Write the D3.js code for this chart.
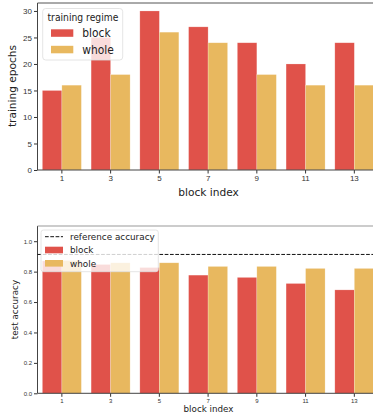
<!DOCTYPE html>
<html><head><meta charset="utf-8">
<script src="https://cdn.jsdelivr.net/npm/d3@7"></script>
<style>body{margin:0;background:#fff}svg{display:block;font-family:"DejaVu Sans",sans-serif}</style>
</head><body><svg id="c" width="373" height="417"></svg>
<script>
const blocks = ["1","3","5","7","9","11","13"];
const epochsBlock = [15,25,30,27,24,20,24];
const epochsWhole = [16,18,26,24,18,16,16];
const accBlock = [0.87,0.847,0.827,0.777,0.762,0.722,0.68];
const accWhole = [0.873,0.858,0.858,0.834,0.834,0.821,0.821];
const refAcc = 0.913;
const epochTicks = [0,5,10,15,20,25,30];
const accTicks = [0,0.2,0.4,0.6,0.8,1.0];
const series = ["block","whole"];
const colors = {block:"#e0524a", whole:"#e8b85f"};

const svg = d3.select("#c");
const X0 = 37.5, X1 = 378.7;
const x = d3.scaleBand().domain(blocks).range([X0,X1]).padding(0);
const bw = x.bandwidth();

function panel(g, yTop, yBot, yMax, blockVals, wholeVals, ticks, fmt, tickFont, spineTopColor){
  const y = d3.scaleLinear().domain([0,yMax]).range([yBot,yTop]);
  const data = [];
  blocks.forEach((b,i)=>{
    data.push({b, s:"block", v:blockVals[i], off:0.1});
    data.push({b, s:"whole", v:wholeVals[i], off:0.5});
  });
  g.selectAll("rect.bar").data(data).join("rect").attr("class","bar")
    .attr("x", d=>x(d.b)+d.off*bw).attr("width", 0.4*bw)
    .attr("y", d=>y(d.v)).attr("height", d=>yBot-y(d.v))
    .attr("fill", d=>colors[d.s]).attr("stroke","rgba(255,255,255,0.35)").attr("stroke-width",0.6);
  const ya = g.append("g").attr("transform",`translate(${X0},0)`)
    .call(d3.axisLeft(y).tickValues(ticks).tickFormat(fmt).tickSize(3.5).tickPadding(2));
  ya.select(".domain").remove();
  ya.selectAll("text").attr("font-size",tickFont).attr("fill","#333");
  ya.selectAll("line").attr("stroke","#333");
  const xa = g.append("g").attr("transform",`translate(0,${yBot})`)
    .call(d3.axisBottom(x).tickSize(3.5).tickPadding(2));
  xa.select(".domain").remove();
  xa.selectAll("text").attr("font-size",tickFont).attr("fill","#333");
  xa.selectAll("line").attr("stroke","#333");
  g.append("line").attr("x1",X0).attr("x2",X0).attr("y1",yTop).attr("y2",yBot).attr("stroke","#444").attr("stroke-width",1);
  g.append("line").attr("x1",X0).attr("x2",X1).attr("y1",yBot).attr("y2",yBot).attr("stroke","#444").attr("stroke-width",1);
  g.append("line").attr("x1",X0).attr("x2",X1).attr("y1",yTop).attr("y2",yTop).attr("stroke",spineTopColor).attr("stroke-width",1);
  return y;
}

// top panel
const gt = svg.append("g");
panel(gt, 3, 170, 31.5, epochsBlock, epochsWhole, epochTicks, d3.format("d"), 8, "#555");
gt.append("text").attr("transform","translate(16,86) rotate(-90)").attr("text-anchor","middle")
  .attr("font-size",10.6).attr("fill","#222").text("training epochs");
gt.append("text").attr("transform","translate(208.5,195.5) scale(0.95,1)").attr("text-anchor","middle")
  .attr("font-size",11.2).attr("fill","#222").text("block index");
const lt = gt.append("g");
lt.append("rect").attr("x",42.7).attr("y",8.5).attr("width",80).attr("height",51.5).attr("rx",3)
  .attr("fill","rgba(255,255,255,0.8)").attr("stroke","#ddd").attr("stroke-width",0.8);
lt.append("text").attr("transform","translate(47.5,21) scale(0.95,1)").attr("font-size",9.7).attr("fill","#222").text("training regime");
series.forEach((s,i)=>{
  lt.append("rect").attr("x",51).attr("y",29.3+i*16.5).attr("width",22.3).attr("height",7.5).attr("fill",colors[s]);
  lt.append("text").attr("transform",`translate(82.3,${37.3+i*16.3}) scale(0.89,1)`).attr("font-size",12).attr("fill","#222").text(s);
});

// bottom panel
const gb = svg.append("g");
const yb = panel(gb, 226, 393.3, 1.1, accBlock, accWhole, accTicks, d3.format(".1f"), 6, "#999");
gb.append("line").attr("x1",X0).attr("x2",X1).attr("y1",yb(refAcc)).attr("y2",yb(refAcc))
  .attr("stroke","#111").attr("stroke-width",1).attr("stroke-dasharray","3.7,1.6");
gb.append("text").attr("transform","translate(18,309.6) rotate(-90)").attr("text-anchor","middle")
  .attr("font-size",8.8).attr("fill","#222").text("test accuracy");
gb.append("text").attr("transform","translate(208.5,412) scale(0.95,1)").attr("text-anchor","middle")
  .attr("font-size",9.2).attr("fill","#222").text("block index");
const lb = gb.append("g");
lb.append("rect").attr("x",41).attr("y",230).attr("width",117.3).attr("height",41.7).attr("rx",2.5)
  .attr("fill","rgba(255,255,255,0.8)").attr("stroke","#ddd").attr("stroke-width",0.8);
lb.append("line").attr("x1",45).attr("x2",63).attr("y1",236.7).attr("y2",236.7)
  .attr("stroke","#111").attr("stroke-width",1).attr("stroke-dasharray","3.7,1.6");
lb.append("text").attr("transform","translate(70,240) scale(0.93,1)").attr("font-size",9.5).attr("fill","#222").text("reference accuracy");
series.forEach((s,i)=>{
  lb.append("rect").attr("x",45).attr("y",246.7+i*13.3).attr("width",18).attr("height",6.6).attr("fill",colors[s]);
  lb.append("text").attr("transform",`translate(70,${253.3+i*13.3}) scale(0.93,1)`).attr("font-size",9.5).attr("fill","#222").text(s);
});
</script></body></html>
